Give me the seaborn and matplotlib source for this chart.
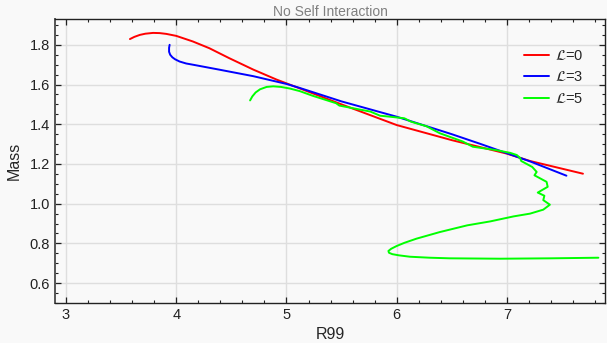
import numpy as np
import pandas as pd
import matplotlib
matplotlib.use("Agg")
import matplotlib.pyplot as plt
import seaborn as sns
from matplotlib.ticker import MultipleLocator

# ---- data ----
r_L0 = [3.58, 3.62, 3.67, 3.72, 3.79, 3.85, 3.91, 4.00, 4.15, 4.30, 4.48, 4.70, 4.91, 5.09, 5.50, 6.00, 6.50, 7.00, 7.21, 7.69]
m_L0 = [1.829, 1.840, 1.850, 1.856, 1.860, 1.859, 1.855, 1.845, 1.817, 1.783, 1.733, 1.675, 1.625, 1.587, 1.500, 1.396, 1.320, 1.252, 1.215, 1.151]

r_L3 = [3.94, 3.935, 3.935, 3.945, 3.965, 3.99, 4.03, 4.09, 4.15, 4.39, 4.70, 5.00, 5.12, 5.50, 6.00, 6.50, 6.76, 7.21, 7.54]
m_L3 = [1.800, 1.785, 1.765, 1.750, 1.737, 1.727, 1.716, 1.706, 1.700, 1.675, 1.642, 1.603, 1.583, 1.515, 1.438, 1.350, 1.301, 1.213, 1.141]

r_L5 = [4.67, 4.69, 4.72, 4.76, 4.82, 4.88, 4.95, 5.03, 5.12, 5.24, 5.45, 5.48, 5.76, 5.85, 5.94, 6.07, 6.13,
        6.27, 6.39, 6.60, 6.69, 6.90, 7.03, 7.09, 7.12, 7.13, 7.23, 7.27, 7.25, 7.36, 7.37,
        7.28, 7.34, 7.33, 7.39, 7.33, 7.21, 7.06, 6.85, 6.64, 6.39, 6.18, 6.07, 6.00, 5.95, 5.925, 5.93,
        5.96, 6.02, 6.12, 6.30, 6.48, 6.94, 7.40, 7.83]
m_L5 = [1.520, 1.540, 1.560, 1.576, 1.588, 1.591, 1.588, 1.580, 1.567, 1.543, 1.506, 1.494, 1.464, 1.443, 1.438, 1.430, 1.413,
        1.390, 1.355, 1.313, 1.287, 1.270, 1.256, 1.245, 1.230, 1.215, 1.185, 1.160, 1.143, 1.110, 1.085,
        1.056, 1.040, 1.018, 0.995, 0.970, 0.950, 0.936, 0.911, 0.891, 0.857, 0.824, 0.803, 0.787, 0.773, 0.762, 0.753,
        0.746, 0.740, 0.733, 0.728, 0.725, 0.723, 0.725, 0.728]

labels = [r"$\mathcal{L}$=0", r"$\mathcal{L}$=3", r"$\mathcal{L}$=5"]
colors = ["#ff0000", "#0000ff", "#00ff00"]

title = "No Self Interaction"
xlabel = "R99"
ylabel = "Mass"

sns.set_theme(style="ticks")
plt.rcParams["font.family"] = ["Liberation Sans", "DejaVu Sans"]
plt.rcParams["mathtext.fontset"] = "dejavusans"

bg = "#f9f9f9"
fig = plt.figure(figsize=(6.07, 3.43), dpi=100, facecolor=bg)
ax = fig.add_axes([55 / 607, (343 - 303) / 343, (605 - 55) / 607, (303 - 19) / 343])
ax.set_facecolor(bg)

for lab, col, xs, ys in zip(labels, colors, [r_L0, r_L3, r_L5], [m_L0, m_L3, m_L5]):
    d = pd.DataFrame({"R99": xs, "Mass": ys})
    sns.lineplot(data=d, x="R99", y="Mass", sort=False, estimator=None,
                 color=col, linewidth=1.4, ax=ax, label=lab)

ax.set_xlim(2.9, 7.89)
ax.set_ylim(0.5, 1.93)
ax.xaxis.set_major_locator(MultipleLocator(1))
ax.xaxis.set_minor_locator(MultipleLocator(0.2))
ax.yaxis.set_major_locator(MultipleLocator(0.2))
ax.yaxis.set_minor_locator(MultipleLocator(0.05))
ax.yaxis.set_major_formatter(matplotlib.ticker.FormatStrFormatter("%.1f"))

ax.grid(True, which="major", color="#dedede", linewidth=1.0)
ax.set_axisbelow(True)
ax.tick_params(which="both", direction="in", top=True, right=True, labelsize=10.5, colors="#222222")
ax.tick_params(which="major", length=4, width=0.9)
ax.tick_params(which="minor", length=2, width=0.8)
for s in ax.spines.values():
    s.set_color("#222222")
    s.set_linewidth(1.0)
ax.spines["left"].set_color("#555555")
ax.spines["left"].set_linewidth(1.4)

ax.set_title(title, fontsize=10, color="#808080", pad=2)
ax.set_xlabel(xlabel, fontsize=11.5, labelpad=4)
ax.set_ylabel(ylabel, fontsize=11.5, labelpad=6)

ax.legend(loc="upper right", frameon=False, fontsize=10.5, handlelength=1.7, handletextpad=0.45,
          bbox_to_anchor=(0.985, 0.94), labelspacing=0.5)

fig.savefig("out.png", dpi=100, facecolor=bg)
